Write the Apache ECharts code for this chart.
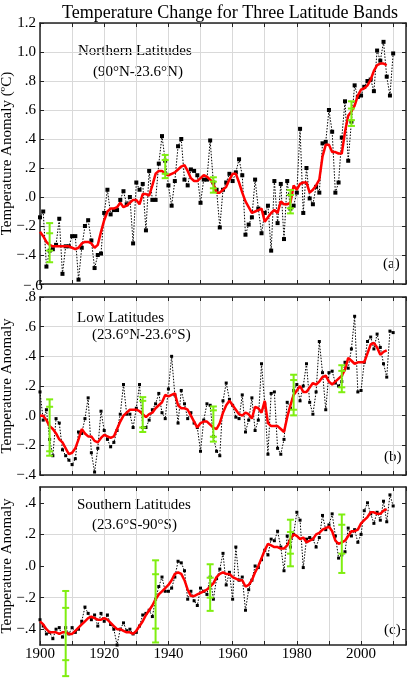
<!DOCTYPE html>
<html><head><meta charset="utf-8">
<script src="https://cdn.jsdelivr.net/npm/echarts@6/dist/echarts.min.js"></script>
<style>html,body{margin:0;padding:0;background:#fff}#c{width:410px;height:678px}</style>
</head><body><div id="c"></div>
<script>
const startYear = 1900;
// Annual anomalies 1900-2010
const northAnnual = [
-0.14,-0.10,-0.48,-0.37,-0.36,-0.33,-0.15,-0.53,-0.34,-0.34,
-0.27,-0.27,-0.57,-0.35,-0.20,-0.16,-0.30,-0.49,-0.40,-0.39,
-0.11,0.05,-0.12,-0.09,-0.09,-0.02,0.04,-0.05,0.00,-0.32,
0.10,0.05,0.09,-0.23,0.18,-0.02,-0.02,0.23,0.42,0.25,
0.08,-0.06,0.11,0.35,0.40,0.12,0.08,0.19,0.18,0.15,
-0.04,0.12,0.12,0.39,0.10,0.05,-0.21,0.05,0.10,0.16,
0.11,0.17,0.26,0.15,-0.26,-0.19,-0.14,0.12,-0.08,-0.25,
-0.11,-0.06,-0.37,0.11,-0.18,0.09,-0.29,0.11,-0.08,-0.06,
0.03,0.47,-0.11,0.20,-0.01,-0.05,0.07,0.03,0.37,0.38,
0.60,0.45,0.03,0.10,0.41,0.66,0.25,0.52,0.77,0.69,
0.70,0.76,0.80,0.81,0.73,1.01,0.94,1.07,0.83,0.70,0.99];
const lowAnnual = [
0.16,-0.03,0.04,-0.16,-0.27,-0.02,-0.05,-0.23,-0.27,-0.30,
-0.33,-0.29,-0.11,-0.12,-0.02,0.12,-0.25,-0.38,-0.22,0.03,
-0.10,-0.16,-0.21,-0.18,-0.10,0.01,0.21,0.01,0.01,-0.08,
0.05,0.21,-0.08,-0.08,-0.03,0.04,0.08,0.15,0.02,-0.02,
0.18,0.40,0.14,-0.05,0.17,0.08,-0.02,0.02,-0.05,-0.08,
-0.24,-0.03,0.08,0.07,-0.14,-0.24,-0.27,0.10,0.22,0.11,
0.07,-0.01,-0.02,0.14,-0.11,-0.03,0.12,-0.10,-0.03,0.35,
0.08,-0.26,0.15,0.16,-0.22,-0.26,-0.16,0.09,0.05,0.17,
0.21,0.10,0.20,0.35,0.09,0.01,0.16,0.50,0.29,0.04,
0.29,0.30,0.22,0.20,0.23,0.36,0.32,0.45,0.67,0.16,
0.17,0.36,0.50,0.53,0.45,0.55,0.46,0.35,0.26,0.57,0.56];
const southAnnual = [
-0.34,-0.38,-0.43,-0.42,-0.46,-0.40,-0.39,-0.45,-0.39,-0.43,
-0.39,-0.42,-0.40,-0.35,-0.26,-0.30,-0.34,-0.31,-0.38,-0.30,
-0.35,-0.31,-0.37,-0.40,-0.50,-0.40,-0.36,-0.41,-0.40,-0.43,
-0.42,-0.38,-0.31,-0.30,-0.28,-0.32,-0.21,-0.13,-0.07,-0.16,
-0.16,-0.14,-0.07,0.03,0.02,-0.03,-0.21,-0.16,-0.22,-0.25,
-0.14,-0.16,-0.18,-0.07,-0.21,-0.08,-0.02,0.08,-0.12,-0.04,
-0.21,0.12,-0.09,-0.07,-0.28,-0.15,-0.09,0.00,-0.01,0.04,
0.10,0.07,0.17,0.16,0.22,0.12,-0.03,0.19,0.12,0.20,
0.34,0.29,-0.01,0.17,0.18,0.17,0.12,0.18,0.32,0.23,
0.26,0.33,0.19,0.05,0.07,0.09,0.24,0.19,0.23,0.15,
0.20,0.35,0.40,0.33,0.27,0.34,0.29,0.41,0.28,0.45,0.38];
// Smoothed (running mean) 1900-2008
const northSmooth = [
-0.24,-0.27,-0.31,-0.33,-0.34,-0.34,-0.34,-0.34,-0.34,-0.34,
-0.35,-0.36,-0.35,-0.32,-0.31,-0.31,-0.32,-0.35,-0.33,-0.24,
-0.16,-0.10,-0.08,-0.08,-0.07,-0.04,-0.07,-0.06,-0.04,-0.02,
-0.02,-0.05,0.02,0.02,0.01,0.08,0.16,0.18,0.18,0.16,
0.15,0.16,0.17,0.19,0.21,0.22,0.18,0.13,0.11,0.11,
0.13,0.15,0.14,0.12,0.09,0.03,0.03,0.05,0.07,0.12,
0.16,0.16,0.10,0.03,-0.03,-0.07,-0.11,-0.10,-0.09,-0.08,
-0.17,-0.14,-0.11,-0.09,-0.11,-0.03,-0.05,-0.05,-0.04,0.08,
0.05,0.09,0.10,0.10,0.03,0.05,0.08,0.12,0.28,0.36,
0.36,0.31,0.31,0.30,0.30,0.45,0.56,0.59,0.63,0.70,
0.74,0.75,0.77,0.81,0.87,0.91,0.92,0.92,0.91];
const lowSmooth = [
0.00,0.00,-0.03,-0.07,-0.09,-0.12,-0.16,-0.18,-0.22,-0.26,
-0.25,-0.22,-0.16,-0.09,-0.12,-0.14,-0.14,-0.17,-0.18,-0.15,
-0.13,-0.14,-0.15,-0.14,-0.09,-0.04,0.00,0.02,0.04,0.04,
0.04,0.03,0.01,-0.01,0.01,0.02,0.05,0.07,0.09,0.14,
0.13,0.14,0.15,0.07,0.05,0.05,0.04,0.00,-0.04,-0.08,
-0.05,-0.04,-0.04,-0.06,-0.08,-0.09,-0.05,0.02,0.07,0.10,
0.07,0.04,0.01,0.00,0.02,0.01,-0.02,0.06,0.05,0.02,
0.10,-0.05,-0.07,-0.07,-0.07,-0.09,-0.11,-0.01,0.07,0.14,
0.17,0.20,0.16,0.16,0.19,0.22,0.21,0.23,0.26,0.27,
0.23,0.21,0.23,0.25,0.27,0.31,0.39,0.37,0.35,0.36,
0.36,0.36,0.42,0.48,0.49,0.46,0.41,0.43,0.44];
const southSmooth = [
-0.35,-0.37,-0.40,-0.42,-0.42,-0.42,-0.43,-0.42,-0.42,-0.43,
-0.43,-0.41,-0.39,-0.37,-0.35,-0.33,-0.32,-0.33,-0.34,-0.34,
-0.33,-0.34,-0.36,-0.38,-0.40,-0.40,-0.41,-0.42,-0.42,-0.43,
-0.41,-0.38,-0.35,-0.31,-0.28,-0.25,-0.21,-0.18,-0.16,-0.14,
-0.12,-0.09,-0.05,-0.04,-0.05,-0.09,-0.15,-0.19,-0.19,-0.18,
-0.17,-0.16,-0.15,-0.13,-0.11,-0.07,-0.05,-0.04,-0.05,-0.05,
-0.07,-0.08,-0.09,-0.09,-0.13,-0.12,-0.09,-0.04,0.00,0.05,
0.10,0.14,0.13,0.12,0.12,0.11,0.11,0.13,0.17,0.20,
0.19,0.17,0.18,0.15,0.16,0.17,0.20,0.21,0.23,0.24,
0.25,0.22,0.16,0.14,0.15,0.16,0.19,0.22,0.22,0.23,
0.27,0.29,0.31,0.34,0.34,0.33,0.33,0.35,0.36];
// Error bars: [year, outerLow, innerLow, innerHigh, outerHigh]
const northBars = [[1903,-0.45,-0.37,-0.25,-0.18],[1939,0.13,0.16,0.255,0.29],[1954,0.03,0.06,0.106,0.136],[1978,-0.113,-0.078,0.014,0.048],[1997,0.49,0.53,0.61,0.66]];
const lowBars = [[1903,-0.27,-0.24,0.06,0.11],[1932,-0.11,-0.08,0.10,0.125],[1954,-0.175,-0.142,0.036,0.062],[1979,0.002,0.04,0.24,0.276],[1994,0.158,0.191,0.302,0.34]];
const southBars = [[1908,-0.697,-0.596,-0.265,-0.158],[1936,-0.484,-0.396,-0.052,0.036],[1953,-0.284,-0.2,-0.074,0.011],[1978,-0.002,0.078,0.215,0.293],[1994,-0.044,0.078,0.261,0.326]];
const xTickLabels = [1900,1920,1940,1960,1980,2000];
const northTickValues = [-0.6,-0.4,-0.2,0,0.2,0.4,0.6,0.8,1.0,1.2];
const lowTickValues = [-0.4,-0.2,0,0.2,0.4,0.6,0.8];
const southTickValues = [-0.4,-0.2,0,0.2,0.4];

const FONT = 'Liberation Serif';
const GREEN = '#7fee10';
const toPairs = arr => arr.map((v,i)=>[startYear+i, v]);
function fmtY(v){
  if (Math.abs(v) < 1e-9) return '.0';
  let s = Math.abs(v).toFixed(1);
  if (s[0]==='0') s = s.slice(1);
  return (v<0?'\u2212':'') + s;
}
function barRender(params, api){
  const x = api.value(0);
  const pts = [1,2,3,4].map(i=>api.coord([x, api.value(i)]));
  const w = 3.5;
  const st = {stroke: GREEN, lineWidth: 2};
  const children = [{type:'line', shape:{x1:pts[0][0],y1:pts[0][1],x2:pts[3][0],y2:pts[3][1]}, style:st}];
  pts.forEach(p=>children.push({type:'line', shape:{x1:p[0]-w,y1:p[1],x2:p[0]+w,y2:p[1]}, style:st}));
  return {type:'group', children};
}
const grids = [
  {left:40, right:4, top:23, height:261},
  {left:40, right:4, top:297, height:178},
  {left:40, right:4, top:487, height:158}
];
const yDefs = [
  {min:-0.6, max:1.2, interval:0.2, name:'Temperature Anomaly (\u00baC)', ticks:northTickValues, labels:northTickValues.slice(1)},
  {min:-0.4, max:0.8, interval:0.2, name:'Temperature Anomaly', ticks:lowTickValues, labels:lowTickValues},
  {min:-0.5, max:0.5, interval:0.1, name:'Temperature Anomaly', ticks:southTickValues, labels:southTickValues, alt:true}
];
const xAxis = [], yAxis = [];
const lineCol = '#222';
grids.forEach((g,i)=>{
  xAxis.push({type:'value', gridIndex:i, min:1900, max:2014, interval:10, position:'bottom',
    axisLine:{show:true, onZero:false, lineStyle:{color:lineCol, width:1.5}},
    axisTick:{show:true, inside:true, length:4, lineStyle:{color:lineCol}},
    splitLine:{show:true, lineStyle:{color:'#d9d9d9', width:1}},
    axisLabel:{show:i===2, margin:2, color:'#000', fontFamily:FONT, fontSize:15,
      formatter: v => xTickLabels.indexOf(v)>=0 ? String(v) : ''}});
  xAxis.push({type:'value', gridIndex:i, min:1900, max:2014, interval:10, position:'top',
    axisLine:{show:true, onZero:false, lineStyle:{color:lineCol, width:1.5}},
    axisTick:{show:true, inside:true, length:4, lineStyle:{color:lineCol}},
    splitLine:{show:false}, axisLabel:{show:false}});
  const d = yDefs[i];
  const yl = {type:'value', gridIndex:i, min:d.min, max:d.max, interval:d.interval, position:'left',
    name:d.name, nameLocation:'middle', nameGap:25, nameRotate:90, nameMoveOverlap:false,
    nameTextStyle:{fontFamily:FONT, fontSize:15, color:'#000'},
    axisLine:{show:true, onZero:false, lineStyle:{color:lineCol, width:1.5}},
    axisTick:{show:true, inside:true, length:4, lineStyle:{color:lineCol}, customValues:d.ticks},
    splitLine:{show:true, lineStyle:{color:'#d9d9d9', width:1}},
    axisLabel:{margin:4, color:'#000', fontFamily:FONT, fontSize:15, hideOverlap:false,
      showMinLabel:true, showMaxLabel:true, customValues:d.labels, formatter: v => fmtY(v)}};
  const yr = {type:'value', gridIndex:i, min:d.min, max:d.max, interval:d.interval, position:'right',
    axisLine:{show:true, onZero:false, lineStyle:{color:lineCol, width:1.5}},
    axisTick:{show:true, inside:true, length:4, lineStyle:{color:lineCol}, customValues:d.ticks},
    splitLine:{show:false}, axisLabel:{show:false}};
  if (d.alt){
    yl.splitLine.lineStyle.color = ['rgba(0,0,0,0)','#d9d9d9'];
    yl.axisLabel.formatter = v => (Math.round(v*10)%2===0 && Math.abs(v)<0.45) ? fmtY(v) : '';
  }
  yAxis.push(yl, yr);
});
const annual = [northAnnual, lowAnnual, southAnnual];
const smooth = [northSmooth, lowSmooth, southSmooth];
const bars = [northBars, lowBars, southBars];
const series = [];
for (let i=0;i<3;i++){
  series.push({type:'line', xAxisIndex:2*i, yAxisIndex:2*i, data:toPairs(annual[i]),
    symbol:'rect', symbolSize: i===0?4:3, itemStyle:{color:'#000'},
    lineStyle:{color:'#000', width:1, type:[1.5,1.5]}, animation:false, z:2});
  series.push({type:'line', xAxisIndex:2*i, yAxisIndex:2*i, data:toPairs(smooth[i]),
    showSymbol:false, symbol:'none', lineStyle:{color:'#ff0000', width:2.5}, animation:false, z:3});
  series.push({type:'custom', xAxisIndex:2*i, yAxisIndex:2*i, data:bars[i],
    encode:{x:0, y:[1,2,3,4]}, renderItem:barRender, clip:false, animation:false, z:4});
}
const txt = (x,y,t,extra) => Object.assign({type:'text', left:x, top:y, style:{text:t, font:'15px "Liberation Serif"', fill:'#000'}}, extra||{});
const g0 = grids[0];
const graphics = [
  txt(78,44,'Northern Latitudes'), txt(93,65,'(90°N-23.6°N)'),
  txt(77,311,'Low Latitudes'), txt(92,328,'(23.6°N-23.6°S)'),
  txt(77,498,'Southern Latitudes'), txt(92,518,'(23.6°S-90°S)'),
  txt(383,257,'(a)'), txt(384,450,'(b)'), txt(384,623,'(c)')
];
// bottom tick label of panel (a), drawn on its own layer
const bottomLabel = {
  text: fmtY(northTickValues[0]), left: 18, top: g0.top + g0.height - 10,
  textStyle: {fontFamily: FONT, fontSize: 15, fontWeight: 'normal', color: '#000'}, zlevel: 2, z: 50
};
const option = {
  animation:false,
  title:[{text:'Temperature Change for Three Latitude Bands', left:57, top:-1,
    textStyle:{fontFamily:FONT, fontSize:18, fontWeight:'normal', color:'#000'}}, bottomLabel],
  grid: grids.map(g=>Object.assign({show:false, outerBoundsMode:'none', containLabel:false}, g)),
  xAxis, yAxis, series, graphic: graphics
};
const chart = echarts.init(document.getElementById('c'), null, {renderer:'canvas'});
chart.setOption(option);
</script></body></html>
